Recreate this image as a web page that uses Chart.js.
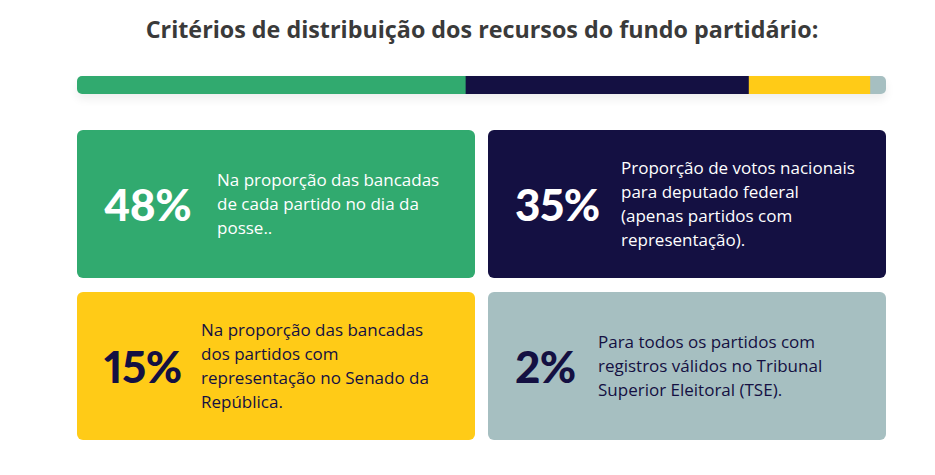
<!DOCTYPE html>
<html lang="pt-BR">
<head>
<meta charset="utf-8">
<script src="https://cdn.jsdelivr.net/npm/chart.js@4.4.0/dist/chart.umd.min.js"></script>
<style>
    html, body { margin: 0; padding: 0; background: #fff; }
    body { width: 935px; height: 475px; position: relative; overflow: hidden; font-family: "Open Sans", "Noto Sans", sans-serif; }
    h1 { position: absolute; top: 13px; left: 0; width: 964px; margin: 0; text-align: center; font-size: 23.3px; font-weight: 700; color: #3a3a3a; }
    #barWrap { position: absolute; left: 77px; top: 76px; width: 809px; height: 18px; border-radius: 5px; overflow: hidden; box-shadow: 0 5px 10px rgba(0,0,0,0.07); }
    .card { position: absolute; width: 398px; height: 148px; border-radius: 6px; }
    .card .pct { position: absolute; left: 27px; top: 0; height: 148px; display: flex; align-items: center; font-family: Lato, "Open Sans", sans-serif; font-size: 44px; font-weight: 900; letter-spacing: -0.5px; font-variant-numeric: proportional-nums; }
    .card .desc { position: absolute; top: 0; height: 148px; display: flex; align-items: center; font-size: 17px; font-weight: 500; line-height: 24px; white-space: nowrap; }
</style>
</head>
<body>
<h1>Critérios de distribuição dos recursos do fundo partidário:</h1>
<div id="barWrap"><canvas id="shareBar"></canvas></div>
<div id="cards"></div>

<script>
// Data
const categories = ['Bancadas na posse', 'Votos para deputado federal', 'Bancadas no Senado', 'Partidos com registro no TSE'];
const shares = [48, 35, 15, 2];
const colors = ['#31AA6F', '#141042', '#FFCB17', '#A6BFC1'];
const textColors = ['#ffffff', '#ffffff', '#141042', '#141042'];
const descriptions = [
    ['Na proporção das bancadas', 'de cada partido no dia da', 'posse..'],
    ['Proporção de votos nacionais', 'para deputado federal', '(apenas partidos com', 'representação).'],
    ['Na proporção das bancadas', 'dos partidos com', 'representação no Senado da', 'República.'],
    ['Para todos os partidos com', 'registros válidos no Tribunal', 'Superior Eleitoral (TSE).']
];

// Card layout (left, top, description offset)
const cardPos = [
    { left: 77, top: 130, descLeft: 140 },
    { left: 488, top: 130, descLeft: 133 },
    { left: 77, top: 292, descLeft: 124 },
    { left: 488, top: 292, descLeft: 110 }
];

const cardsEl = document.getElementById('cards');
categories.forEach((cat, i) => {
    const p = cardPos[i];
    const card = document.createElement('div');
    card.className = 'card';
    card.style.left = p.left + 'px';
    card.style.top = p.top + 'px';
    card.style.background = colors[i];
    card.style.color = textColors[i];
    card.title = cat;
    card.innerHTML = `
        <div class="pct">${shares[i]}%</div>
        <div class="desc" style="left:${p.descLeft}px"><div>${descriptions[i].join('<br>')}</div></div>
    `;
    cardsEl.appendChild(card);
});

// Stacked share bar
const ctx = document.getElementById('shareBar').getContext('2d');
new Chart(ctx, {
    type: 'bar',
    data: {
        labels: [''],
        datasets: categories.map((cat, i) => ({
            label: cat,
            data: [shares[i]],
            backgroundColor: colors[i],
            borderWidth: 0,
            barPercentage: 1,
            categoryPercentage: 1
        }))
    },
    options: {
        indexAxis: 'y',
        responsive: true,
        maintainAspectRatio: false,
        animation: false,
        layout: { padding: 0 },
        scales: {
            x: { stacked: true, min: 0, max: 100, display: false },
            y: { stacked: true, display: false }
        },
        plugins: {
            legend: { display: false },
            tooltip: { enabled: false }
        }
    }
});
</script>
</body>
</html>
